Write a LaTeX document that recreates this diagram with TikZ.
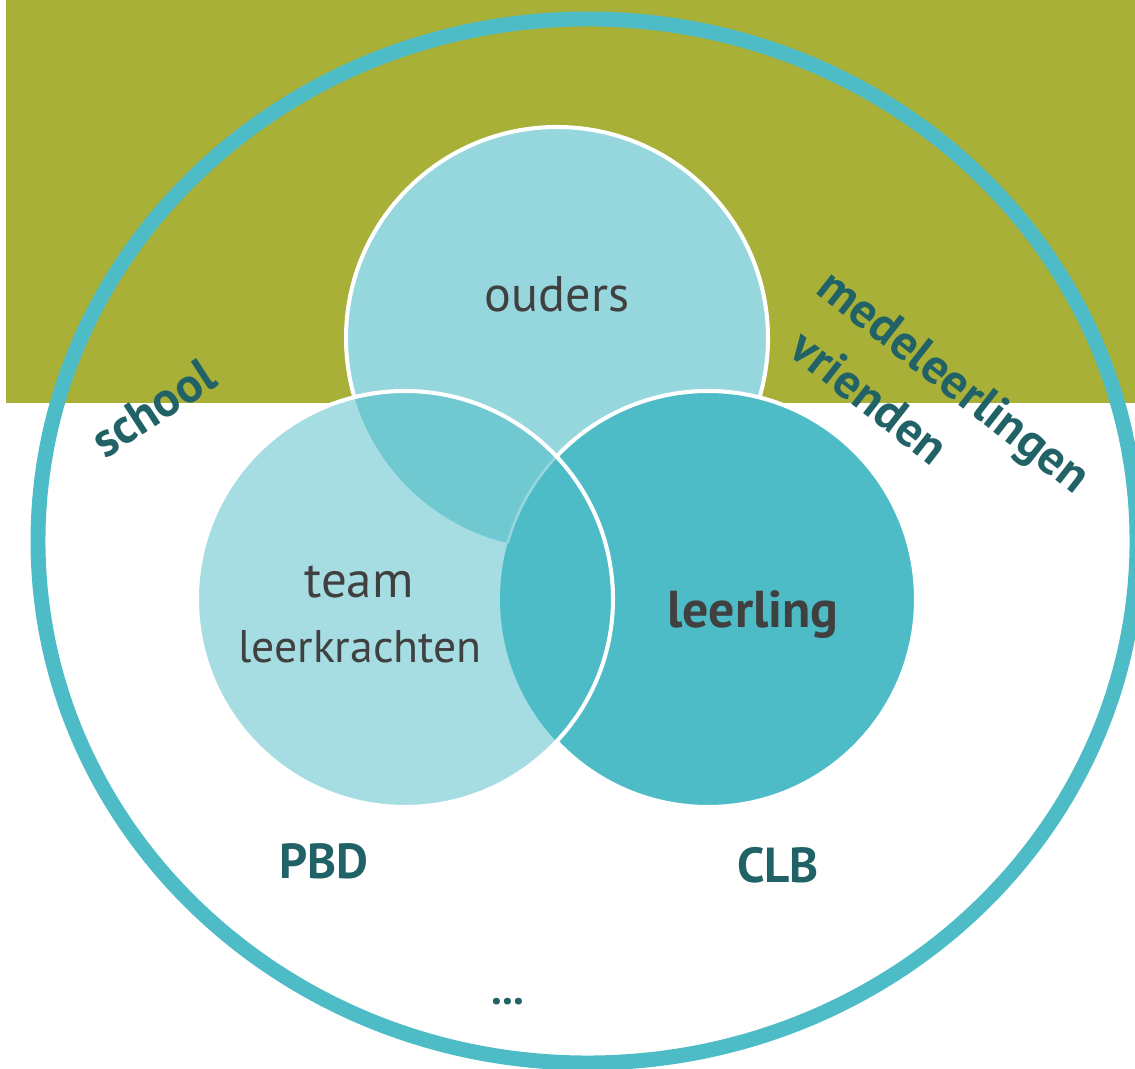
\documentclass[tikz,border=0pt]{standalone}
\usepackage{fontspec}
\setmainfont{PT Sans}
\definecolor{olive_bg}{RGB}{168,176,56}
\definecolor{ring_teal}{RGB}{78,188,198}
\definecolor{ouders_fill}{RGB}{150,215,222}
\definecolor{team_fill}{RGB}{166,221,227}
\definecolor{mix_fill}{RGB}{112,200,208}
\definecolor{label_dark}{RGB}{33,98,102}
\definecolor{text_gray}{RGB}{64,64,64}

\begin{document}
\begin{tikzpicture}[x=0.02cm,y=0.02cm]
    \tikzstyle{border}=[draw=white, line width=2.3pt]
    \tikzstyle{inner}=[text=text_gray, anchor=base]
    \tikzstyle{outer}=[text=label_dark, font=\bfseries\fontsize{28}{32}\selectfont]

    \useasboundingbox (0,0) rectangle (1135,1068);
    \fill[olive_bg] (6,665) rectangle (1135,1068);
    \draw[ring_teal, line width=8.5pt] (587.5,527) ellipse [x radius=549.5, y radius=522];

    % ouders, leerling, team
    \fill[ouders_fill] (557,730) circle (211);
    \draw[border] (557,730) circle (211);
    \fill[ring_teal] (708,469) circle (208);
    \draw[border] (708,469) circle (208);
    \fill[team_fill] (405,469) circle (208);
    \begin{scope}
      \clip (405,469) circle (208);
      \fill[mix_fill] (557,730) circle (211);
      \fill[ring_teal] (708,469) circle (208);
      \clip (557,730) circle (211);
      \draw[ouders_fill, line width=1.5pt] (708,469) circle (208);
    \end{scope}
    \draw[border] (405,469) circle (208);

    \node[inner, font=\fontsize{28.5}{32}\selectfont] (ouders) at (557,756) {ouders};
    \node[inner, font=\fontsize{29}{33}\selectfont] (team) at (359,470) {team};
    \node[inner, font=\fontsize{26}{30}\selectfont] (leerkr) at (360,405) {leerkrachten};
    \node[inner, font=\bfseries\fontsize{29.5}{34}\selectfont] (leerling) at (753,440) {leerling};

    \node[outer, anchor=base] (pbd) at (324,190) {PBD};
    \node[outer, anchor=base] (clb) at (778,185) {CLB};
    \node[outer, anchor=base, font=\bfseries\fontsize{25}{30}\selectfont] (dots) at (508,64) {...};
    \node[outer, rotate=33] (school) at (153,660) {school};
    \node[outer, rotate=-38] (medel) at (952,684) {medeleerlingen};
    \node[outer, rotate=-38] (vrienden) at (870,671) {vrienden};
\end{tikzpicture}
\end{document}
